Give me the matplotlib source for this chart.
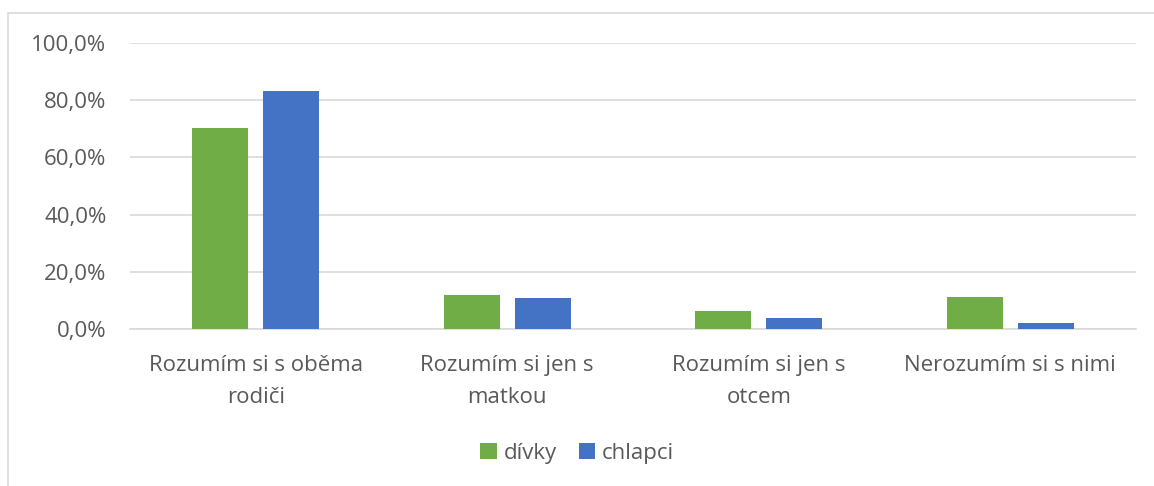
import numpy as np
import matplotlib.pyplot as plt
from matplotlib.patches import Rectangle
from matplotlib.ticker import FuncFormatter

# data
categories = ['Rozumím si s oběma\nrodiči', 'Rozumím si jen s\nmatkou',
              'Rozumím si jen s\notcem', 'Nerozumím si s nimi']
divky = [70.3, 11.8, 6.4, 11.2]
chlapci = [83.2, 10.7, 3.9, 2.0]
yticks = [0, 20, 40, 60, 80, 100]

plt.rcParams['font.family'] = ['Open Sans', 'DejaVu Sans']

fig = plt.figure(figsize=(11.54, 4.86), dpi=100)
ax = fig.add_axes([130 / 1154, 1 - 329 / 486, (1136 - 130) / 1154, (329 - 43) / 486])

# chart border
fig.patches.append(Rectangle((8 / 1154, -0.01), 1.2, 1 - 13 / 486 + 0.01,
                             transform=fig.transFigure, fill=False,
                             edgecolor='#d9d9d9', linewidth=1.2))

x = np.arange(len(categories))
w = 0.223
off = 0.141
ax.bar(x - off, divky, w, color='#70ad47', label='dívky', zorder=3)
ax.bar(x + off, chlapci, w, color='#4472c4', label='chlapci', zorder=3)

ax.set_xlim(-0.5, len(categories) - 0.5)
ax.set_ylim(0, 100)
ax.set_yticks(yticks)
ax.yaxis.set_major_formatter(FuncFormatter(lambda v, p: f'{v:.1f}%'.replace('.', ',')))
ax.grid(axis='y', color='#d9d9d9', linewidth=1.2, zorder=0)
for s in ['top', 'right', 'left']:
    ax.spines[s].set_visible(False)
ax.spines['bottom'].set_color('#d9d9d9')
ax.spines['bottom'].set_linewidth(1.2)
ax.tick_params(axis='both', length=0, colors='#595959', labelsize=16)
ax.tick_params(axis='y', pad=17)
ax.tick_params(axis='x', pad=19)
ax.set_xticks(x)
ax.set_xticklabels(categories, linespacing=1.65)

leg = fig.legend(loc='center', bbox_to_anchor=(0.5, 1 - 453 / 486), ncol=2,
                 frameon=False, fontsize=16, handlelength=0.75, handleheight=0.75,
                 handletextpad=0.3, columnspacing=1.0)
for t in leg.get_texts():
    t.set_color('#595959')

fig.savefig('out.png', dpi=100)
